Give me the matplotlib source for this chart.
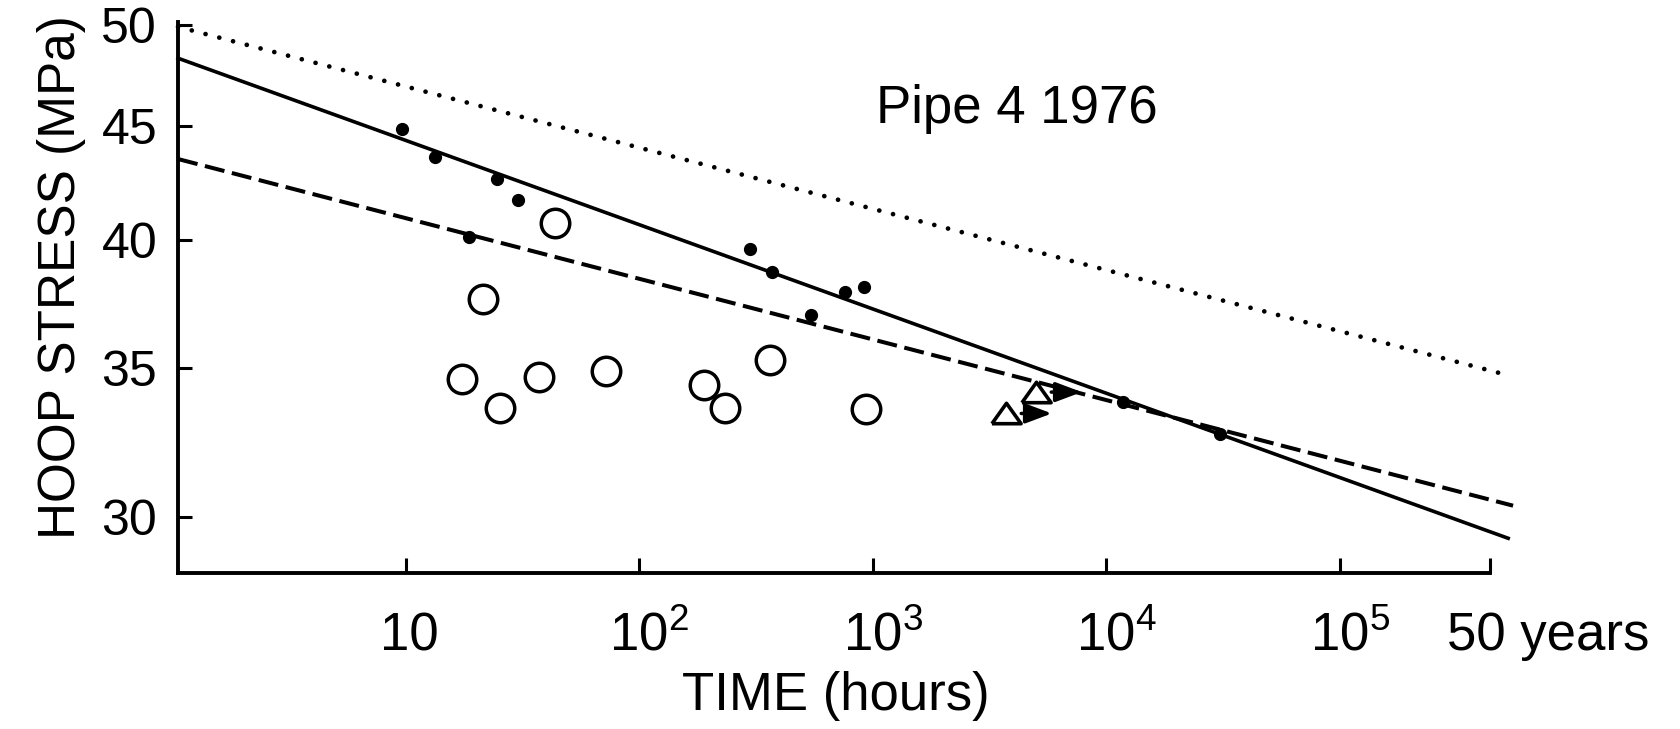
import matplotlib.pyplot as plt
from matplotlib.ticker import NullLocator
from matplotlib.transforms import ScaledTranslation

plt.rcParams['font.family'] = ['Liberation Sans', 'DejaVu Sans']
plt.rcParams['mathtext.fontset'] = 'custom'
plt.rcParams['mathtext.rm'] = 'Liberation Sans'
plt.rcParams['mathtext.it'] = 'Liberation Sans:italic'

# failures (filled dots): time in hours, hoop stress in MPa
dot_hours = [9.6, 13.4, 18.6, 24.7, 30.4, 299, 370, 546, 759, 916, 11800, 30700]
dot_mpa = [44.9, 43.6, 40.1, 42.6, 41.7, 39.6, 38.7, 37.0, 37.9, 38.1, 33.8, 32.7]

# open circles
circle_hours = [17.5, 21.5, 25.4, 37.2, 43.5, 72.3, 189, 234, 363, 937]
circle_mpa = [34.6, 37.6, 33.6, 34.7, 40.7, 34.9, 34.4, 33.6, 35.3, 33.55]

# run-outs (still going, triangles with arrows)
runout_hours = [3720, 5000]
runout_mpa = [33.4, 34.15]

# fitted lines, start and end points
solid_hours = [1.06, 5.26e5]
solid_mpa = [48.3, 29.34]
dashed_hours = [1.06, 5.52e5]
dashed_mpa = [43.5, 30.35]
dotted_hours = [1.06, 5.21e5]
dotted_mpa = [49.9, 34.76]

xticks = [10, 1e2, 1e3, 1e4, 1e5, 438000]
xticklabels = ['10', r'$\mathregular{10^2}$', r'$\mathregular{10^3}$',
               r'$\mathregular{10^4}$', r'$\mathregular{10^5}$', '']
yticks = [30, 35, 40, 45, 50]

fig = plt.figure(figsize=(16.81, 7.29), dpi=100)
ax = fig.add_axes([0.1059, 0.2144, 0.7954, 0.7554])
ax.set_xscale('log')
ax.set_yscale('log')
ax.set_xlim(1.06, 5.63e5)
ax.set_ylim(28.31, 50.15)

ax.plot(solid_hours, solid_mpa, color='k', lw=2.6, clip_on=False)
ax.plot(dashed_hours, dashed_mpa, color='k', lw=2.9, dashes=(5, 1.9), clip_on=False)
ax.plot(dotted_hours, dotted_mpa, color='k', lw=3.4, dashes=(0.01, 3.0),
        dash_capstyle='round', clip_on=False)

ax.plot(dot_hours, dot_mpa, 'o', color='k', ms=8.5, clip_on=False)
ax.plot(circle_hours, circle_mpa, 'o', mfc='none', mec='k', ms=20.5, mew=2.5)
tri = [(-1, -0.7), (1, -0.7), (0, 0.7), (-1, -0.7)]
ax.plot(runout_hours, runout_mpa, ls='none', marker=tri, mfc='white', mec='k',
        ms=21, mew=2.6)
for h, s in zip(runout_hours, runout_mpa):
    ax.annotate('', xy=(h, s), xytext=(33, 0), textcoords='offset points',
                arrowprops=dict(arrowstyle='<|-,head_length=0.8,head_width=0.3',
                                mutation_scale=20, color='k', lw=2.5,
                                shrinkA=0, shrinkB=11))

for side in ['top', 'right']:
    ax.spines[side].set_visible(False)
for side in ['left', 'bottom']:
    ax.spines[side].set_linewidth(2.8)
ax.spines['bottom'].set_bounds(1.06, 438000)

ax.xaxis.set_minor_locator(NullLocator())
ax.yaxis.set_minor_locator(NullLocator())
ax.set_xticks(xticks)
ax.set_xticklabels(xticklabels)
ax.set_yticks(yticks)
ax.set_yticklabels([str(v) for v in yticks])
ax.tick_params(axis='x', direction='in', length=11, width=2.2, pad=55.7, labelsize=38)
ax.tick_params(axis='y', direction='in', length=10, width=2.2, pad=15, labelsize=36)
# printed labels sit a little right of their ticks
for i, lab in enumerate(ax.get_xticklabels()):
    lab.set_verticalalignment('baseline')
    shift = 4 if i == 0 else 10
    lab.set_transform(lab.get_transform() + ScaledTranslation(shift / 100, 0, fig.dpi_scale_trans))

ax.annotate('50 years', xy=(438000, 0), xycoords=ax.get_xaxis_transform(),
            xytext=(42, -55.7), textcoords='offset points',
            ha='center', va='baseline', fontsize=38)

ax.set_xlabel('TIME (hours)', fontsize=38)
ax.xaxis.set_label_coords(0.4918, -0.2493)
ax.xaxis.label.set_verticalalignment('baseline')
ax.set_ylabel('HOOP STRESS (MPa)', fontsize=37)
ax.yaxis.set_label_coords(-0.069, 0.536)

ax.text(0.6275, 0.8166, 'Pipe 4 1976', transform=ax.transAxes,
        ha='center', va='baseline', fontsize=38)

fig.savefig('out.png', dpi=100)
